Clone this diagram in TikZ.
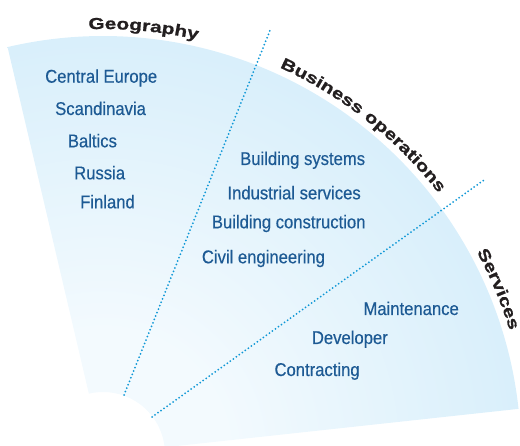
\documentclass[tikz,border=0pt]{standalone}
\usepackage{fontspec}
\setmainfont{Liberation Sans}
\newfontfamily\itemfont[FakeStretch=0.9,FakeBold=0.4]{Liberation Sans}
\newfontfamily\arcfont[FakeStretch=1.3,FakeBold=1.0]{Liberation Sans Bold}
\usetikzlibrary{decorations.text}
\definecolor{fanin}{HTML}{F3FAFE}
\definecolor{fanmid}{HTML}{D4EDFA}
\definecolor{fanout}{HTML}{C2E4F7}
\definecolor{itemblue}{HTML}{1D5A94}
\definecolor{dotblue}{HTML}{0E97D6}
\definecolor{labelink}{HTML}{231F20}
% light centre, deeper blue towards the rim
\pgfdeclareradialshading{fanshade}{\pgfpoint{0bp}{0bp}}{color(0bp)=(fanin); color(7.4bp)=(fanin); color(28bp)=(fanmid); color(50bp)=(fanout)}
\begin{document}
\begin{tikzpicture}[x=1pt,y=1pt,
  item/.style={anchor=base west, inner sep=0pt, text=itemblue,
    font=\itemfont\fontsize{18.5}{20}\selectfont},
  divider/.style={draw=dotblue, line width=2pt, line cap=round,
    dash pattern=on 0pt off 3.7pt},
  arclabel/.style={decorate, decoration={text along path, text align=center,
    text color=labelink, text={|\arcfont\fontsize{16}{16}\selectfont|#1}}}
]
\useasboundingbox (0,0) rectangle (520,445);
\coordinate (c) at (103,-9);

% the fan
\begin{scope}
  \clip ([shift={(c)}]103.2:418) arc[start angle=103.2,end angle=6.2,radius=418]
     -- ([shift={(c)}]6.2:62) arc[start angle=6.2,end angle=103.2,radius=62] -- cycle;
  \shade[shading=fanshade] (c) circle[radius=418];
\end{scope}

% dotted dividers
\coordinate (d1a) at (124,50);
\coordinate (d1b) at (271,417);
\coordinate (d2a) at (152,28);
\coordinate (d2b) at (484,265);
\draw[divider] (d1a) -- (d1b);
\draw[divider] (d2a) -- (d2b);

% headings along the rim
\path[arclabel={Geography}] ([shift={(c)}]99.05:425) arc[start angle=99.05,end angle=70.05,radius=425];
\path[arclabel={Business operations}] ([shift={(c)}]71.65:425) arc[start angle=71.65,end angle=31.65,radius=425];
\path[arclabel={Services}] ([shift={(c)}]32.65:425) arc[start angle=32.65,end angle=12.65,radius=425];

% geography
\node[item] (g1) at (45,362.3) {Central Europe};
\node[item] (g2) at (55,330) {Scandinavia};
\node[item] (g3) at (67.7,297.7) {Baltics};
\node[item] (g4) at (74,265.7) {Russia};
\node[item] (g5) at (80,236.7) {Finland};

% business operations
\node[item] (b1) at (240,280) {Building systems};
\node[item] (b2) at (227.3,245.7) {Industrial services};
\node[item] (b3) at (211.7,216.7) {Building construction};
\node[item] (b4) at (201.7,181.7) {Civil engineering};

% services
\node[item] (s1) at (363.3,130) {Maintenance};
\node[item] (s2) at (311.7,101) {Developer};
\node[item] (s3) at (274.3,69) {Contracting};
\end{tikzpicture}
\end{document}
